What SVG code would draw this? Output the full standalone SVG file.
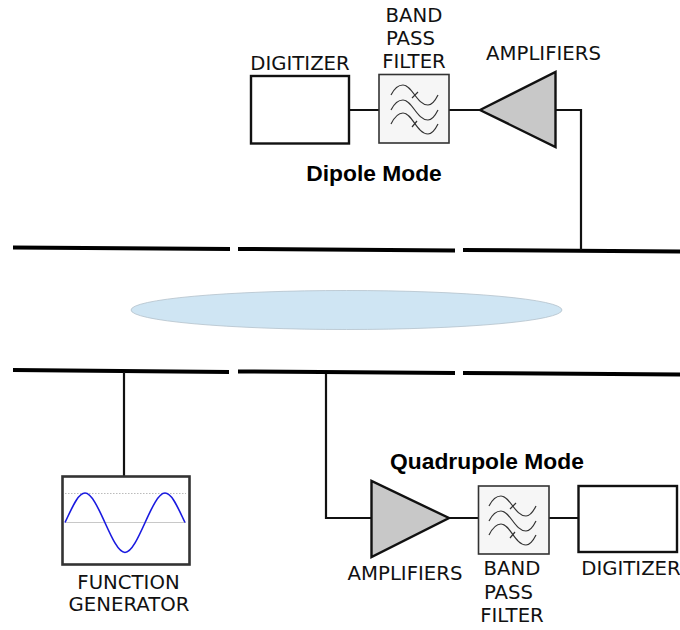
<svg xmlns="http://www.w3.org/2000/svg" xmlns:xlink="http://www.w3.org/1999/xlink" width="680" height="630" viewBox="0 0 680 630">
<style>
.lbl{font-family:"DejaVu Sans",sans-serif;font-size:19.7px;fill:#111}
.mode{font-family:"Liberation Sans",Arial,sans-serif;font-size:22.8px;font-weight:bold;fill:#000}
.plate{stroke:#000;stroke-width:4;fill:none}
.wire{stroke:#111;stroke-width:2.2;fill:none}
.box{fill:#fff;stroke:#111;stroke-width:2.4}
.amp{fill:#c8c8c8;stroke:#111;stroke-width:2.4;stroke-linejoin:miter}
.filt{fill:#f6f6f6;stroke:#333;stroke-width:1.6}
.wave{fill:none;stroke:#333;stroke-width:1.2}
</style>
<defs>
<g id="waves">
<path class="wave" d="M12 21C15 15 19 11 24 11C33 11 38 31 49 31C53 31 56 27 59 21"/>
<path class="wave" d="M12 36C15 30 19 26 24 26C33 26 38 46 49 46C53 46 56 42 59 36"/>
<path class="wave" d="M12 50C15 44 19 39 24 39C33 39 38 60 49 60C53 60 56 56 59 50"/>
<path class="wave" d="M33 24L39 18M33 53L38 47"/>
</g>
</defs>
<g id="connectors">
<path class="plate" d="M13 247.6L230 249"/>
<path class="plate" d="M238 249L455 250.4"/>
<path class="plate" d="M463 250L680 251.6"/>
<path class="plate" d="M13 370L229 372"/>
<path class="plate" d="M238 371.5L455 373"/>
<path class="plate" d="M463 373L680 374.5"/>
<path class="wire" d="M349 110H379M449 110H480M556 110H581V250"/>
<path class="wire" d="M124 372V476"/>
<path class="wire" d="M326 374V518H371M449 518H478M549 518H578"/>
</g>
<g id="beam"><ellipse cx="346.5" cy="310" rx="215.5" ry="19.5" fill="#cfe5f3" stroke="#b4c2cc" stroke-width="0.8"/></g>
<g id="digitizer-top"><rect class="box" x="251" y="76" width="98" height="67.5"/><text class="lbl" x="300" y="70" text-anchor="middle">DIGITIZER</text></g>
<g id="filter-top"><rect class="filt" x="379" y="74.500" width="70" height="68.500"/><use xlink:href="#waves" href="#waves" x="379" y="74"/>
<text class="lbl" x="414" y="22" text-anchor="middle">BAND</text><text class="lbl" x="410.500" y="45" text-anchor="middle">PASS</text><text class="lbl" x="414" y="68" text-anchor="middle">FILTER</text></g>
<g id="amp-top"><path class="amp" d="M480 110L555.500 72V147Z"/><text class="lbl" x="543.500" y="60" text-anchor="middle">AMPLIFIERS</text></g>
<g id="mode-top"><text class="mode" x="374" y="181" text-anchor="middle">Dipole Mode</text></g>
<g id="function-generator"><rect x="62.500" y="476.500" width="127" height="88" fill="#fff" stroke="#333" stroke-width="2.6"/>
<path d="M65 493.500H186" stroke="#bbb" stroke-width="1" stroke-dasharray="1.500 1.500" fill="none"/>
<path d="M65 522.500H186" stroke="#c8c8c8" stroke-width="1.200" fill="none"/>
<path d="M65 522.500C72 508 78 493 85 493C98 493 112 552.500 125 552.500C138 552.500 152 493 165 493C172 493 178 508 185 522.500" fill="none" stroke="#1a1ae0" stroke-width="1.600"/>
<text class="lbl" x="128.500" y="589" text-anchor="middle">FUNCTION</text><text class="lbl" x="129" y="611" text-anchor="middle">GENERATOR</text></g>
<g id="amp-bottom"><path class="amp" d="M371.500 481V557L449 518Z"/><text class="lbl" x="405" y="580" text-anchor="middle">AMPLIFIERS</text></g>
<g id="filter-bottom"><rect class="filt" x="478.500" y="486" width="70.500" height="68"/><use xlink:href="#waves" href="#waves" x="477" y="485"/>
<text class="lbl" x="512" y="575" text-anchor="middle">BAND</text><text class="lbl" x="508.500" y="599" text-anchor="middle">PASS</text><text class="lbl" x="512" y="622" text-anchor="middle">FILTER</text></g>
<g id="digitizer-bottom"><rect class="box" x="578.500" y="486" width="98.500" height="66"/><text class="lbl" x="631" y="575" text-anchor="middle">DIGITIZER</text></g>
<g id="mode-bottom"><text class="mode" x="487" y="469" text-anchor="middle">Quadrupole Mode</text></g>
</svg>
